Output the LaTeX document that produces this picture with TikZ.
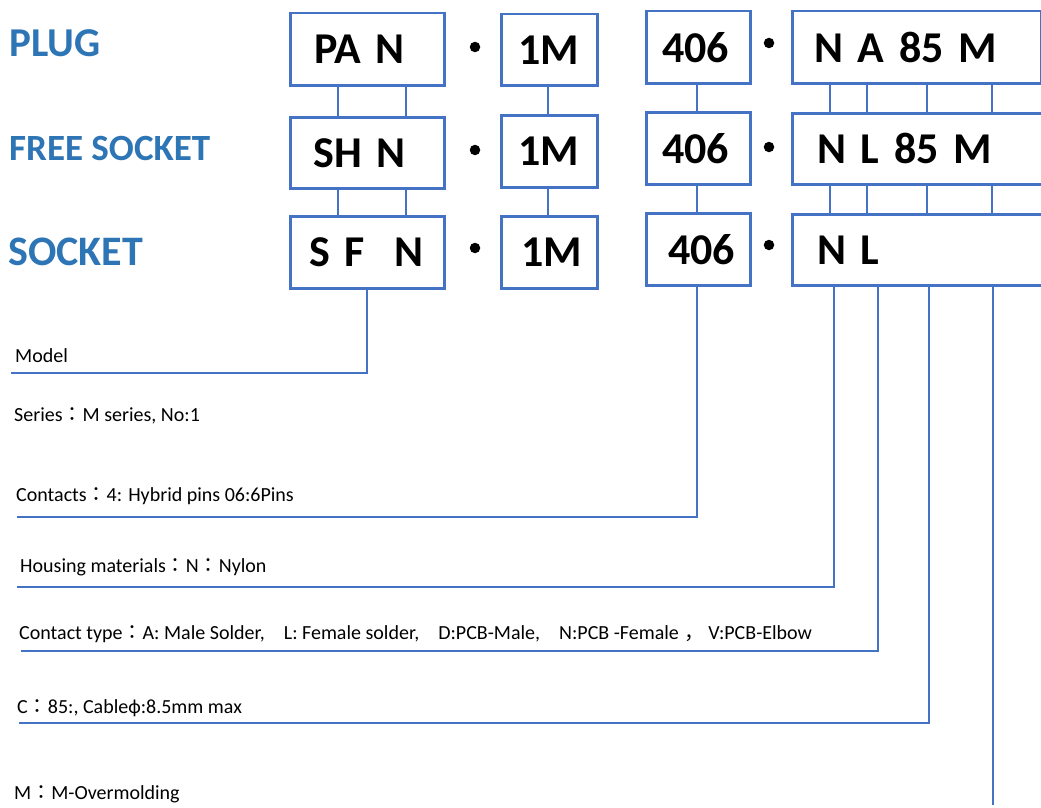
\documentclass[tikz,border=0pt]{standalone}
\usepackage{fontspec}
\setmainfont{Carlito}
\newfontfamily\cjk{Noto Sans CJK JP}
\definecolor{lblue}{HTML}{2E75B6}
\definecolor{lineblue}{HTML}{4472C4}
\newcommand{\fc}{{\cjk ：}}
\begin{document}
\begin{tikzpicture}[x=1pt,y=-1pt,
  box/.style={draw=lineblue, line width=2.5pt, anchor=north west, align=left,
    inner ysep=0pt, font=\fontsize{44}{48}\selectfont\bfseries},
  lbl/.style={anchor=base west, inner sep=0pt, text=lblue, font=\bfseries},
  small/.style={anchor=base west, inner sep=0pt, font=\fontsize{20}{23}\selectfont},
  conn/.style={draw=lineblue, line width=2.2pt},
  dotm/.style={circle, fill=black, inner sep=0pt, minimum size=10.5pt}]
\useasboundingbox (0,0) rectangle (1041,808);

% left labels
\node[lbl, font=\fontsize{41}{44}\selectfont\bfseries] (lplug) at (9,57) {PLUG};
\node[lbl, font=\fontsize{37}{40}\selectfont\bfseries] (lfree) at (9,160) {FREE SOCKET};
\node[lbl, font=\fontsize{42}{45}\selectfont\bfseries] (lsock) at (8,265) {SOCKET};

% column 1
\node[box, inner xsep=24pt, text width=106pt, minimum height=72pt] (a1) at (289,12) {PA N};
\node[box, inner xsep=23pt, text width=108pt, minimum height=71pt] (a2) at (289,116) {SH N};
\node[box, inner xsep=19pt, text width=116pt, minimum height=72pt] (a3) at (289,215) {S F\hspace{30pt}N};
% column 2
\node[box, inner xsep=17pt, text width=62pt, minimum height=71pt] (b1) at (500,13) {1M};
\node[box, inner xsep=17pt, text width=62pt, minimum height=72pt] (b2) at (500,114) {1M};
\node[box, inner xsep=20pt, text width=56pt, minimum height=72pt] (b3) at (500,215) {1M};
% column 3
\node[box, inner xsep=16pt, text width=72pt, minimum height=72pt] (c1) at (645,10) {406};
\node[box, inner xsep=16pt, text width=72pt, minimum height=72pt] (c2) at (645,111) {406};
\node[box, inner xsep=22pt, text width=60pt, minimum height=72pt] (c3) at (645,212) {406};
% column 4
\node[box, inner xsep=22pt, text width=205pt, minimum height=72pt] (d1) at (791,10) {N A 85 M};
\node[box, inner xsep=25pt, text width=250pt, minimum height=71pt] (d2) at (791,112) {N L 85 M};
\node[box, inner xsep=25pt, text width=250pt, minimum height=71pt] (d3) at (791,213) {N L};

% dots
\node[dotm] (p1) at (475,47) {};
\node[dotm] (p2) at (475,150) {};
\node[dotm] (p3) at (475,248) {};
\node[dotm] (q1) at (769,43) {};
\node[dotm] (q2) at (769,147) {};
\node[dotm] (q3) at (769,245) {};

% connectors between rows
\foreach \u/\v in {a1/a2,a2/a3}{
  \draw[conn] ([xshift=49pt]\u.south west) -- ([xshift=49pt]\v.north west);
  \draw[conn] ([xshift=117pt]\u.south west) -- ([xshift=117pt]\v.north west);
}
\foreach \u/\v in {b1/b2,b2/b3}{
  \draw[conn] ([xshift=48pt]\u.south west) -- ([xshift=48pt]\v.north west);
}
\foreach \u/\v in {c1/c2,c2/c3}{
  \draw[conn] ([xshift=52pt]\u.south west) -- ([xshift=52pt]\v.north west);
}
\foreach \u/\v in {d1/d2,d2/d3}{
  \foreach \dx in {39,76,136,201}{
    \draw[conn] ([xshift=\dx pt]\u.south west) -- ([xshift=\dx pt]\v.north west);
  }
}

% descriptions
\node[small] (tmodel) at (15,362) {Model};
\node[small] (tseries) at (14,421) {Series\fc M series, No:1};
\node[small] (tcont) at (16,501) {Contacts\fc 4: Hybrid pins 06:6Pins};
\node[small] (thous) at (20,572) {Housing materials\fc N\fc Nylon};
\node[small] (ttype) at (19,639) {Contact type\fc A: Male Solder,\hspace{19pt}L: Female solder,\hspace{19pt}D:PCB-Male,\hspace{19pt}N:PCB -Female \hspace{1pt}{\cjk ，}\hspace{4pt}V:PCB-Elbow};
\node[small] (tc) at (17,713) {C\fc 85:, Cableф:8.5mm max};
\node[small] (tm) at (14,799) {M\fc M-Overmolding};

% leader lines
\coordinate (e1) at (11,373);
\coordinate (e2) at (17,517);
\coordinate (e3) at (17,587);
\coordinate (e4) at (21,651);
\coordinate (e5) at (19,723);
\coordinate (e6) at (993,805);
\draw[conn] ([xshift=78pt]a3.south west) |- (e1);
\draw[conn] ([xshift=52pt]c3.south west) |- (e2);
\draw[conn] ([xshift=43pt]d3.south west) |- (e3);
\draw[conn] ([xshift=87pt]d3.south west) |- (e4);
\draw[conn] ([xshift=138pt]d3.south west) |- (e5);
\draw[conn] ([xshift=202pt]d3.south west) -- (e6);
\end{tikzpicture}
\end{document}
